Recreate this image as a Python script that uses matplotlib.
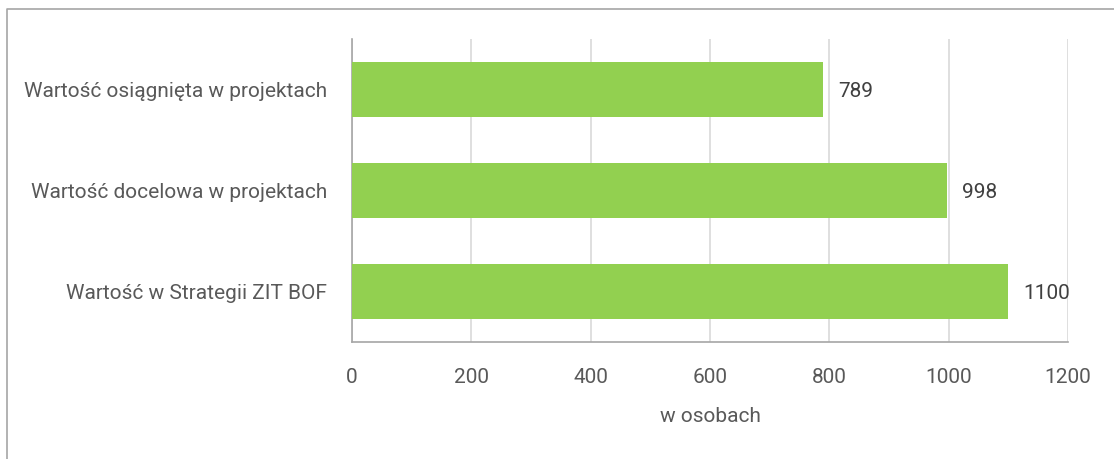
import matplotlib
matplotlib.use("Agg")
import matplotlib.pyplot as plt
from matplotlib.lines import Line2D

categories = ["Wartość w Strategii ZIT BOF", "Wartość docelowa w projektach", "Wartość osiągnięta w projektach"]
values = [1100, 998, 789]
xticks = [0, 200, 400, 600, 800, 1000, 1200]
xlabel = "w osobach"

plt.rcParams['font.family'] = ['Roboto', 'DejaVu Sans']
txt = '#595959'
fig = plt.figure(figsize=(11.14, 4.59), dpi=100)
W, H = 1114, 459
ax = fig.add_axes([352/W, 1-342/H, (1068-352)/W, (342-39)/H])
y = range(len(categories))
ax.barh(y, values, height=0.545, color='#92D050', zorder=3)
ax.set_xlim(0, 1200)
ax.set_ylim(-0.5, 2.5)
ax.set_xticks(xticks)
ax.set_xticklabels([str(t) for t in xticks], fontsize=15, color=txt)
ax.set_yticks(list(y))
ax.set_yticklabels(categories, fontsize=15, color=txt)
ax.tick_params(axis='both', length=0)
ax.tick_params(axis='x', pad=19)
ax.tick_params(axis='y', pad=18)
ax.grid(axis='x', color='#D9D9D9', linewidth=1.2, zorder=0)
for s in ['top', 'right']:
    ax.spines[s].set_visible(False)
for s in ['left', 'bottom']:
    ax.spines[s].set_color('#A6A6A6')
    ax.spines[s].set_linewidth(1.2)
for i, v in enumerate(values):
    ax.annotate(str(v), (v, i), xytext=(15, -2), textcoords='offset pixels',
                va='center', ha='left', fontsize=15, color='#404040')
ax.set_xlabel(xlabel, fontsize=15, color=txt)
ax.xaxis.set_label_coords((710-352)/(1068-352), -(417-342)/(342-39))
ax.xaxis.label.set_va('center')
# outer border
fig.add_artist(Line2D([7/W, 7/W, 1], [0, 1-9/H, 1-9/H], color='#A6A6A6', linewidth=1.2))
fig.savefig("out.png", dpi=100)
